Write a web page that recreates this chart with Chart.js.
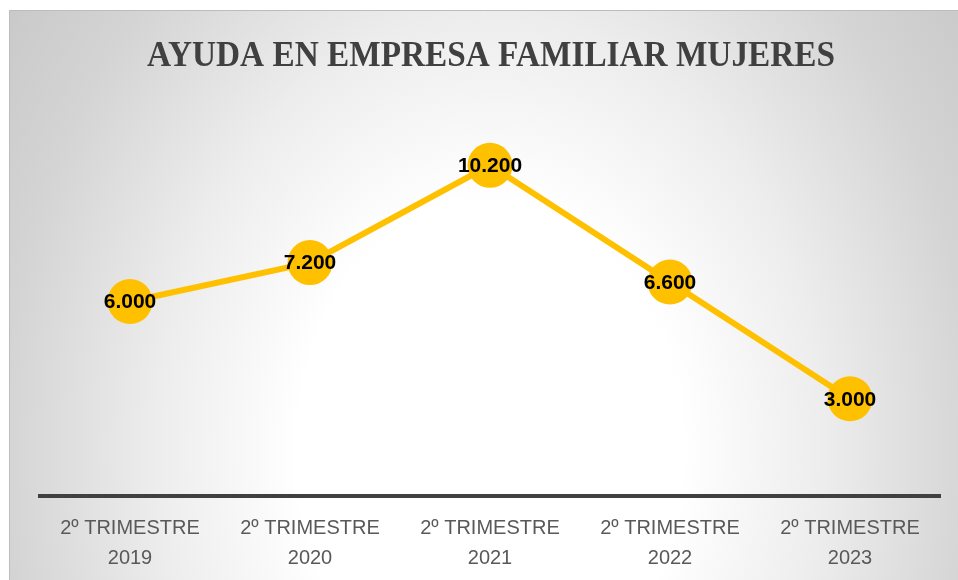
<!DOCTYPE html>
<html>
<head>
<meta charset="utf-8">
<title>Ayuda en empresa familiar mujeres</title>
<script src="https://cdn.jsdelivr.net/npm/chart.js@4/dist/chart.umd.min.js"></script>
<style>
    html, body { margin: 0; padding: 0; background: #ffffff; }
    #wrap { position: relative; width: 958px; height: 580px; }
</style>
</head>
<body>
<div id="wrap"><canvas id="chart" width="958" height="580"></canvas></div>
<script>
// Chart data
const chartTitle = 'AYUDA EN EMPRESA FAMILIAR MUJERES';
const categories = [
    ['2º TRIMESTRE', '2019'],
    ['2º TRIMESTRE', '2020'],
    ['2º TRIMESTRE', '2021'],
    ['2º TRIMESTRE', '2022'],
    ['2º TRIMESTRE', '2023']
];
const values = [6000, 7200, 10200, 6600, 3000];

const GOLD = '#FFC000';

// Format numbers with a dot as thousands separator (6.000)
function formatValue(v) {
    return v.toString().replace(/\B(?=(\d{3})+(?!\d))/g, '.');
}

// Background: white page, grey radial panel with top/left border
const backgroundPlugin = {
    id: 'panelBackground',
    beforeDraw: function(chart) {
        const ctx = chart.ctx;
        ctx.save();
        ctx.fillStyle = '#ffffff';
        ctx.fillRect(0, 0, chart.width, chart.height);

        ctx.save();
        ctx.beginPath();
        ctx.rect(9, 10, chart.width - 9, chart.height - 10);
        ctx.clip();
        ctx.translate(490, 450);
        ctx.scale(1, 1.3);
        const grad = ctx.createRadialGradient(0, 0, 0, 0, 0, 640);
        grad.addColorStop(0, '#ffffff');
        grad.addColorStop(0.3, '#ffffff');
        grad.addColorStop(0.52, '#ededed');
        grad.addColorStop(0.76, '#d4d4d4');
        grad.addColorStop(1, '#c4c4c4');
        ctx.fillStyle = grad;
        ctx.fillRect(-600, -500, 1300, 800);
        ctx.restore();

        ctx.strokeStyle = '#bcbcbc';
        ctx.lineWidth = 1;
        ctx.beginPath();
        ctx.moveTo(9.5, chart.height);
        ctx.lineTo(9.5, 10.5);
        ctx.lineTo(chart.width, 10.5);
        ctx.stroke();
        ctx.restore();
    }
};

// Title drawn with a slightly condensed bold serif
const titlePlugin = {
    id: 'condensedTitle',
    afterDraw: function(chart) {
        const ctx = chart.ctx;
        ctx.save();
        ctx.font = 'bold 36px "Liberation Serif", "DejaVu Serif", serif';
        ctx.fillStyle = '#404040';
        ctx.textAlign = 'center';
        ctx.textBaseline = 'alphabetic';
        const w = ctx.measureText(chartTitle).width;
        const sx = 688 / w;
        ctx.translate(491, 66);
        ctx.scale(sx, 1);
        ctx.fillText(chartTitle, 0, 0);
        ctx.restore();
    }
};

// Value labels centred on each point
const valueLabelPlugin = {
    id: 'valueLabels',
    afterDatasetsDraw: function(chart) {
        const ctx = chart.ctx;
        const meta = chart.getDatasetMeta(0);
        ctx.save();
        ctx.font = 'bold 21px "Liberation Sans", Arial, sans-serif';
        ctx.fillStyle = '#000000';
        ctx.textAlign = 'center';
        ctx.textBaseline = 'middle';
        meta.data.forEach(function(pt, i) {
            ctx.fillText(formatValue(values[i]), pt.x, pt.y + 1);
        });
        ctx.restore();
    }
};

const ctx = document.getElementById('chart').getContext('2d');
const chart = new Chart(ctx, {
    type: 'line',
    data: {
        labels: categories,
        datasets: [{
            data: values,
            borderColor: GOLD,
            backgroundColor: GOLD,
            borderWidth: 6,
            pointRadius: 22.5,
            pointHoverRadius: 22.5,
            pointBorderWidth: 0,
            pointBackgroundColor: GOLD,
            tension: 0,
            fill: false,
            clip: false
        }]
    },
    options: {
        responsive: false,
        animation: false,
        layout: {
            autoPadding: false,
            padding: { left: 40, right: 18, top: 107, bottom: 0 }
        },
        plugins: {
            legend: { display: false },
            title: { display: false },
            tooltip: { enabled: false }
        },
        scales: {
            x: {
                offset: true,
                grid: { display: false },
                border: { display: true, color: '#404040', width: 4 },
                ticks: {
                    color: '#595959',
                    padding: 9.5,
                    maxRotation: 0,
                    autoSkip: false,
                    font: { family: '"Liberation Sans", Arial, sans-serif', size: 20, lineHeight: 1.5 }
                },
                afterFit: function(scale) {
                    scale.height = 84;
                    scale.paddingLeft = 0;
                    scale.paddingRight = 0;
                }
            },
            y: {
                display: false,
                min: 0,
                max: 12000
            }
        }
    },
    plugins: [backgroundPlugin, titlePlugin, valueLabelPlugin]
});
</script>
</body>
</html>
